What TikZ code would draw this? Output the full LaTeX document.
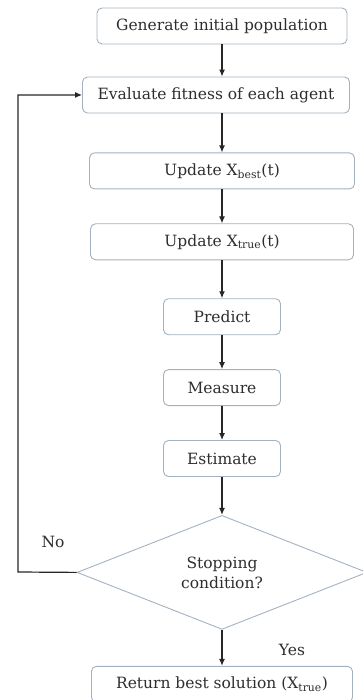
\documentclass[tikz,border=0pt]{standalone}
\usepackage{fontspec}
\setmainfont{DejaVu Serif}
\usetikzlibrary{arrows.meta, positioning, shapes.geometric, calc}

\definecolor{boxline}{HTML}{A3B2C0}
\definecolor{txt}{HTML}{2E2E2E}

\begin{document}
\begin{tikzpicture}[
    box/.style={draw=boxline, line width=0.9pt, rounded corners=5pt, fill=white,
                minimum height=36pt, text centered, text=txt, font=\fontsize{15.5}{18}\selectfont},
    decide/.style={draw=boxline, line width=0.9pt, diamond, aspect=2.5, inner sep=0pt,
                   minimum width=290pt, minimum height=114pt, align=center,
                   text=txt, font=\fontsize{15.5}{20}\selectfont},
    lbl/.style={text=txt, font=\fontsize{15.5}{18}\selectfont},
    flow/.style={draw=black!85, line width=1.2pt, -{Latex[length=7pt, width=6pt]}},
    >=Latex, node distance=34pt
  ]
  \useasboundingbox (0,0) rectangle (362pt,-700pt);

  % Initial steps
  \node[box, minimum width=250pt] (init) at (222pt,-26pt)
    {Generate initial population};
  \node[box, minimum width=267pt] (eval) at (216pt,-95pt)
    {Evaluate fitness of each agent};

  % Update steps
  \node[box, minimum width=265pt, below=39pt of eval.south -| init, anchor=north] (best)
    {Update X\textsubscript{best}(t)};
  \node[box, minimum width=263pt, below=of best] (true)
    {Update X\textsubscript{true}(t)};

  % Filter steps
  \node[box, minimum width=117pt, below=38pt of true] (predict) {Predict};
  \node[box, minimum width=117pt, below=of predict] (measure) {Measure};
  \node[box, minimum width=117pt, below=of measure] (estimate) {Estimate};

  % Decision and result
  \node[decide, below=38pt of estimate] (stop) {Stopping\\condition?};
  \node[box, minimum width=261pt, below=36pt of stop] (result)
    {Return best solution (X\textsubscript{true})};

  % Arrows
  \draw[flow] (init) -- (init |- eval.north);
  \draw[flow] (init |- eval.south) -- (best);
  \draw[flow] (best) -- (true);
  \draw[flow] (true) -- (predict);
  \draw[flow] (predict) -- (measure);
  \draw[flow] (measure) -- (estimate);
  \draw[flow] (estimate) -- (stop);
  \draw[flow] (stop) -- (result);

  % Loop back
  \coordinate (back) at (18pt,-572pt);
  \draw[flow] (stop.west) -- (back) |- (eval.west);

  % Labels
  \node[lbl] (no) at (53pt,-542pt) {No};
  \node[lbl] (yes) at (292pt,-650pt) {Yes};

\end{tikzpicture}
\end{document}
